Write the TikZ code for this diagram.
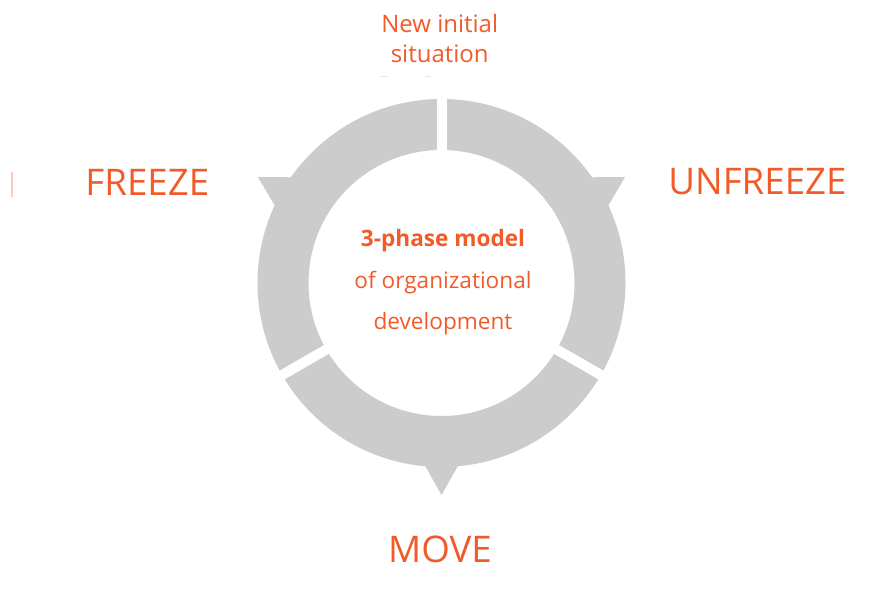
\documentclass[tikz,border=0pt]{standalone}
\usepackage{fontspec}
\setmainfont{Open Sans}
\definecolor{ringgray}{RGB}{204,204,204}
\definecolor{lewinorange}{RGB}{241,90,41}
\definecolor{faintorange}{RGB}{255,200,180}
\definecolor{paleorange}{RGB}{255,225,212}
\tikzset{
  ringfill/.style={fill=ringgray},
  gapline/.style={draw=white,line width=10},
  lbl/.style={text=lewinorange,inner sep=0pt,anchor=base},
  biglbl/.style={lbl,font=\fontsize{36.7}{40}\selectfont},
  toplbl/.style={lbl,font=\fontsize{24}{28}\selectfont},
  midlbl/.style={lbl,font=\fontsize{22.6}{26}\selectfont},
}
\begin{document}
\begin{tikzpicture}[x=1pt,y=1pt]
\useasboundingbox (0,0) rectangle (874,601);
\coordinate (C) at (441.5,318);
\begin{scope}[shift={(C)}]
  % ring
  \fill[ringfill,even odd rule] (0,0) circle (184) (0,0) circle (133);
  % outward barbs
  \foreach \a in {30,150,270}{
    \fill[ringfill] (\a-5.5:182) -- (\a:212) -- (\a+5.5:182) -- cycle;
  }
  % gaps between the three segments
  \foreach \a in {90,210,330}{
    \draw[gapline] (\a:120) -- (\a:200);
  }
\end{scope}
% labels
\node[toplbl] (new) at (439.7,568.7) {New initial};
\node[toplbl] (sit) at (439.7,538.3) {situation};
\node[biglbl] (freeze) at (147.3,405) {FREEZE};
\node[biglbl] (unfreeze) at (757.5,406) {UNFREEZE};
\node[biglbl] (move) at (440,38.7) {MOVE};
\node[midlbl,font=\fontsize{22.6}{26}\selectfont\bfseries] (model) at (443,354.3) {3-phase model};
\node[midlbl] (org) at (443,312.7) {of organizational};
\node[midlbl] (dev) at (443,271) {development};
% faint remnants
\fill[faintorange] (11,404.3) rectangle (12.6,429.3);
\fill[paleorange] (380,523.5) rectangle (388,525);
\fill[paleorange] (425,523.5) rectangle (431,525);
\end{tikzpicture}
\end{document}
